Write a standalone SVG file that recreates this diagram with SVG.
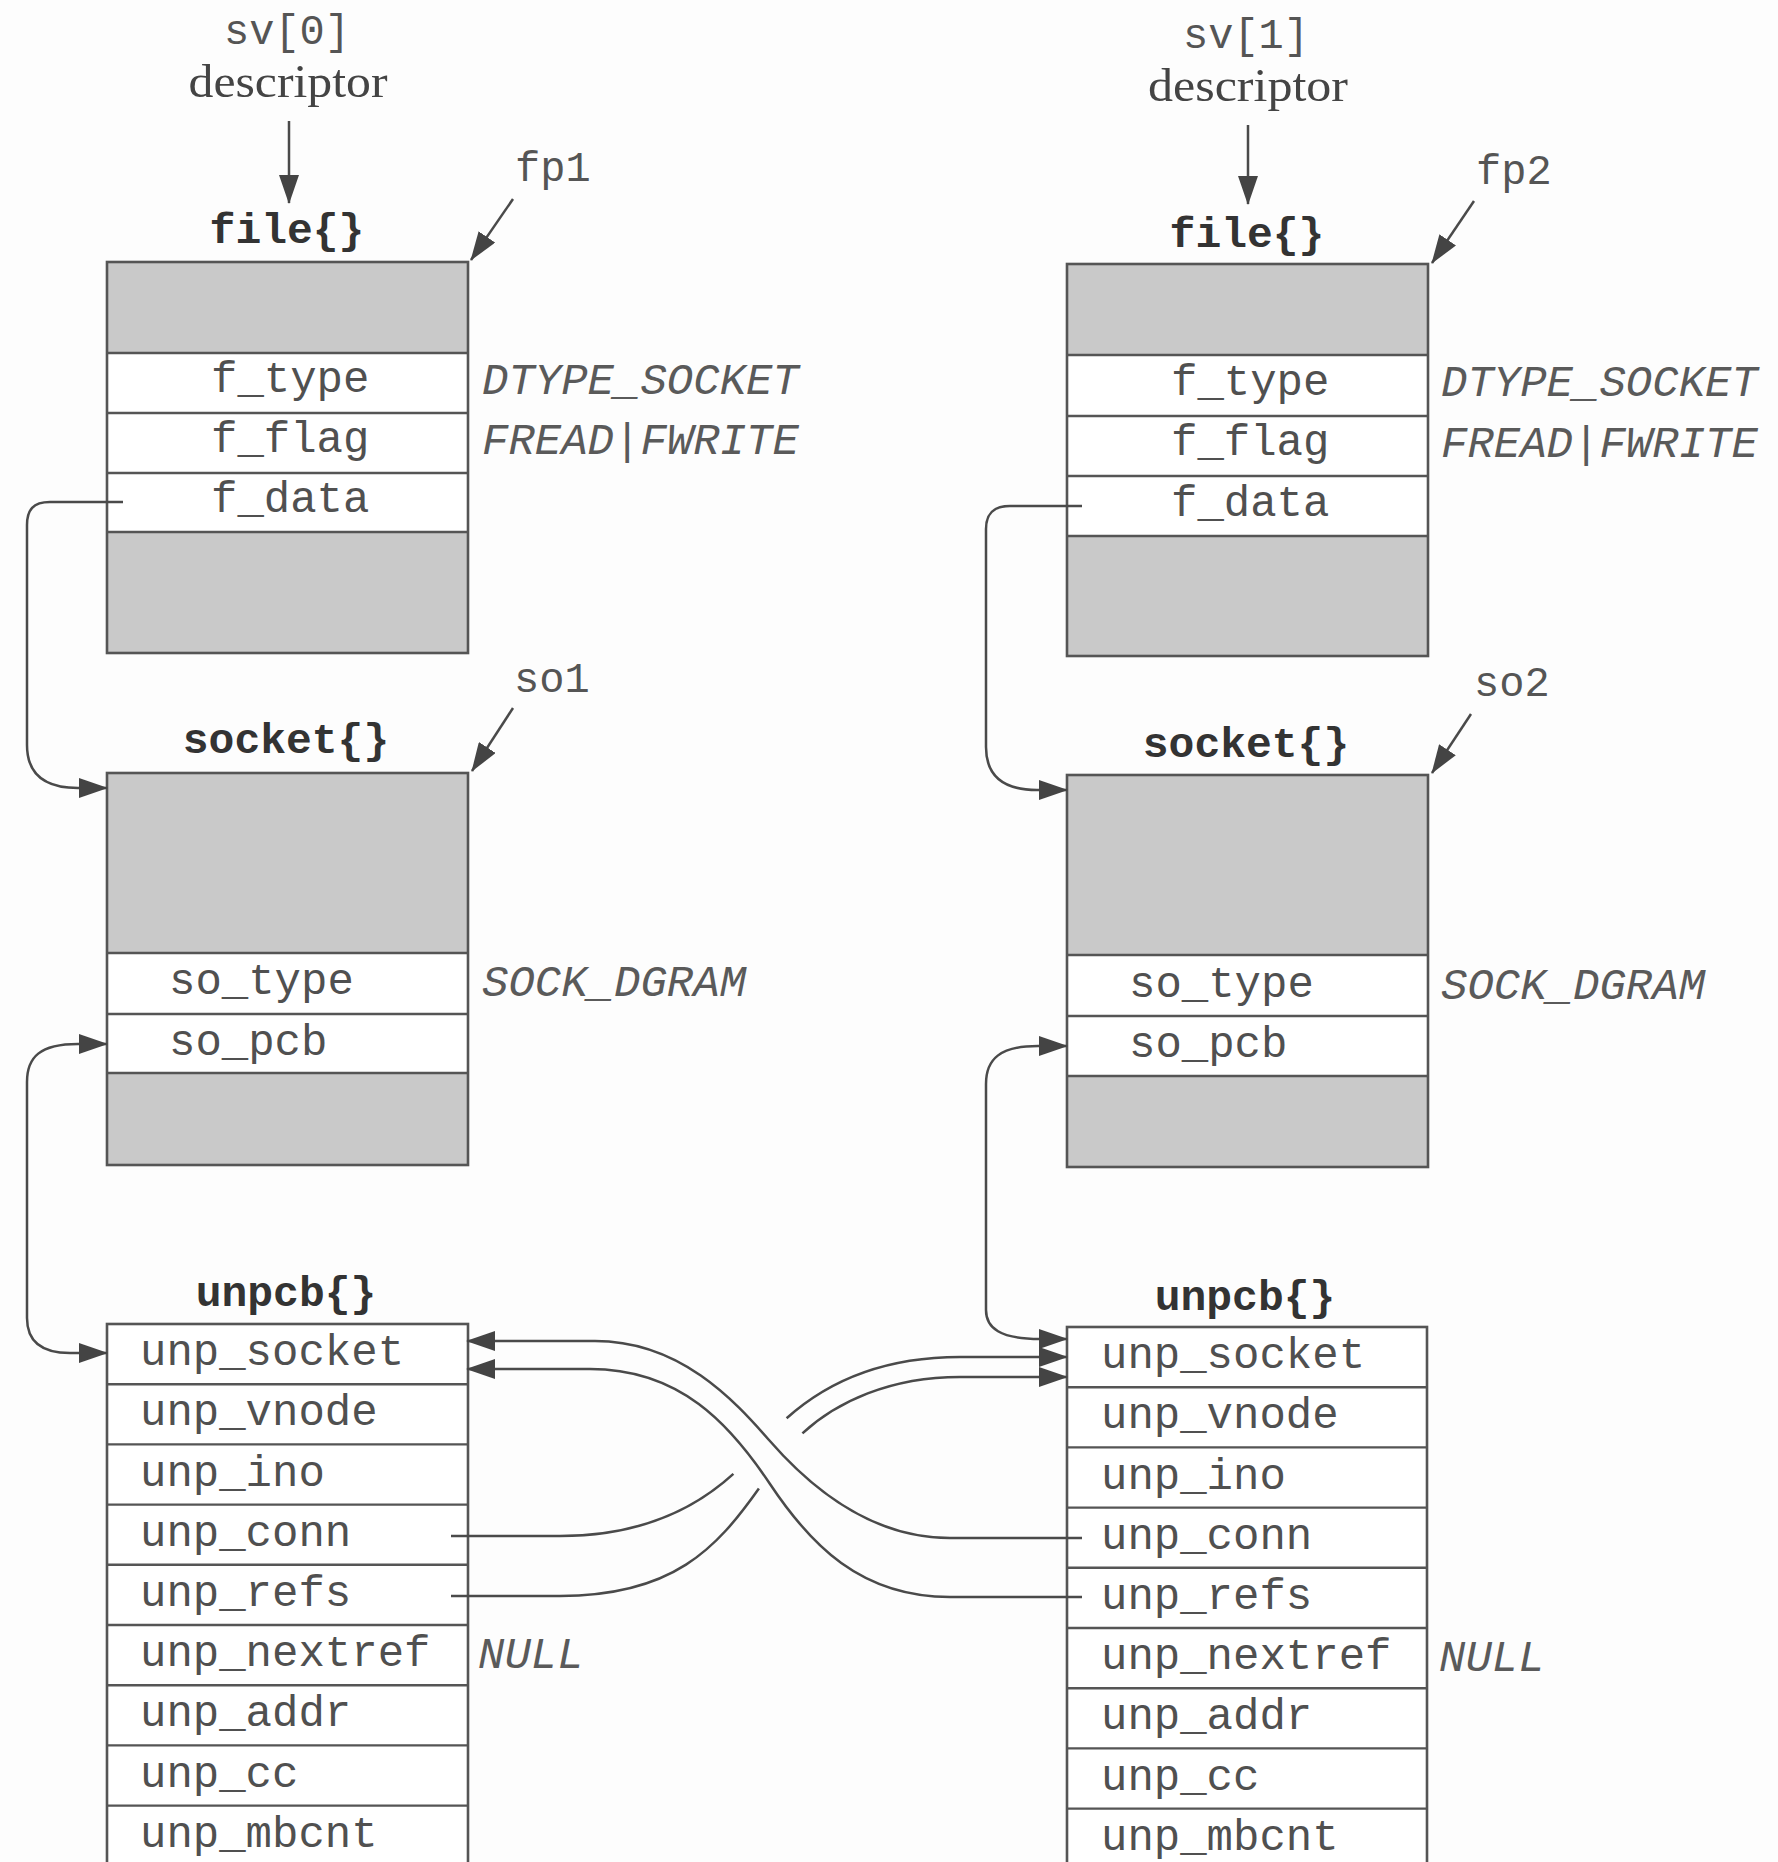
<svg xmlns="http://www.w3.org/2000/svg" width="1778" height="1862" viewBox="0 0 1778 1862">
<defs>
<marker id="ah" markerUnits="userSpaceOnUse" viewBox="0 0 29 20" markerWidth="29" markerHeight="20" refX="28" refY="10" orient="auto-start-reverse">
<path d="M0,0 L29,10 L0,20 z" fill="#444"/>
</marker>
<style>
.box{fill:none;stroke:#555;stroke-width:2.6}
.sep{stroke:#555;stroke-width:2.4}
.gray{fill:#c9c9c9}
.wh{fill:#fff}
.fld{font-family:"Liberation Mono","DejaVu Sans Mono",monospace;font-size:44px;fill:#505050}
.ttl{font-family:"Liberation Mono","DejaVu Sans Mono",monospace;font-size:43px;font-weight:bold;fill:#333;text-anchor:middle}
.val{font-family:"Liberation Mono","DejaVu Sans Mono",monospace;font-size:44px;font-style:italic;fill:#5a5a5a}
.ptr{font-family:"Liberation Mono","DejaVu Sans Mono",monospace;font-size:42px;fill:#555}
.ser{font-family:"Liberation Serif","DejaVu Serif",serif;font-size:47px;fill:#444;text-anchor:middle}
.ln{fill:none;stroke:#4a4a4a;stroke-width:2.5}
</style>
</defs>
<rect x="0" y="0" width="1778" height="1862" fill="#fdfdfd"/>

<!-- Left column -->
<g id="desc0">
<text class="ptr" x="287" y="44" text-anchor="middle">sv[0]</text>
<text class="ser" x="288" y="97" textLength="199" lengthAdjust="spacingAndGlyphs">descriptor</text>
</g>
<g id="file1">
<text class="ttl" x="287" y="243">file{}</text>
<rect class="gray" x="107" y="262" width="361" height="91"/>
<rect class="wh" x="107" y="353" width="361" height="179"/>
<rect class="gray" x="107" y="532" width="361" height="121"/>
<rect class="box" x="107" y="262" width="361" height="391"/>
<line class="sep" x1="107" y1="353" x2="468" y2="353"/>
<line class="sep" x1="107" y1="413" x2="468" y2="413"/>
<line class="sep" x1="107" y1="473" x2="468" y2="473"/>
<line class="sep" x1="107" y1="532" x2="468" y2="532"/>
<text class="fld" x="211" y="392">f_type</text>
<text class="fld" x="211" y="452">f_flag</text>
<text class="fld" x="211" y="512">f_data</text>
<text class="val" x="482" y="394">DTYPE_SOCKET</text>
<text class="val" x="482" y="454">FREAD|FWRITE</text>
<text class="ptr" x="515" y="181">fp1</text>
</g>
<g id="socket1">
<text class="ttl" x="286" y="753">socket{}</text>
<rect class="gray" x="107" y="773" width="361" height="180"/>
<rect class="wh" x="107" y="953" width="361" height="120"/>
<rect class="gray" x="107" y="1073" width="361" height="92"/>
<rect class="box" x="107" y="773" width="361" height="392"/>
<line class="sep" x1="107" y1="953" x2="468" y2="953"/>
<line class="sep" x1="107" y1="1014" x2="468" y2="1014"/>
<line class="sep" x1="107" y1="1073" x2="468" y2="1073"/>
<text class="fld" x="169" y="994">so_type</text>
<text class="fld" x="169" y="1055">so_pcb</text>
<text class="val" x="482" y="996">SOCK_DGRAM</text>
<text class="ptr" x="514" y="692">so1</text>
</g>
<g id="unpcb1">
<text class="ttl" x="286" y="1306">unpcb{}</text>
<rect class="wh" x="107" y="1324" width="361" height="560"/>
<rect class="box" x="107" y="1324" width="361" height="560"/>
<line class="sep" x1="107" y1="1384.2" x2="468" y2="1384.2"/>
<line class="sep" x1="107" y1="1444.4" x2="468" y2="1444.4"/>
<line class="sep" x1="107" y1="1504.6" x2="468" y2="1504.6"/>
<line class="sep" x1="107" y1="1564.8" x2="468" y2="1564.8"/>
<line class="sep" x1="107" y1="1625" x2="468" y2="1625"/>
<line class="sep" x1="107" y1="1685.2" x2="468" y2="1685.2"/>
<line class="sep" x1="107" y1="1745.4" x2="468" y2="1745.4"/>
<line class="sep" x1="107" y1="1805.6" x2="468" y2="1805.6"/>
<text class="fld" x="140" y="1365">unp_socket</text>
<text class="fld" x="140" y="1425">unp_vnode</text>
<text class="fld" x="140" y="1486">unp_ino</text>
<text class="fld" x="140" y="1546">unp_conn</text>
<text class="fld" x="140" y="1606">unp_refs</text>
<text class="fld" x="140" y="1666">unp_nextref</text>
<text class="fld" x="140" y="1726">unp_addr</text>
<text class="fld" x="140" y="1787">unp_cc</text>
<text class="fld" x="140" y="1847">unp_mbcnt</text>
<text class="val" x="478" y="1668">NULL</text>
</g>

<!-- Right column -->
<g id="desc1">
<text class="ptr" x="1246" y="48" text-anchor="middle">sv[1]</text>
<text class="ser" x="1248" y="101" textLength="200" lengthAdjust="spacingAndGlyphs">descriptor</text>
</g>
<g id="file2">
<text class="ttl" x="1247" y="247">file{}</text>
<rect class="gray" x="1067" y="264" width="361" height="91"/>
<rect class="wh" x="1067" y="355" width="361" height="181"/>
<rect class="gray" x="1067" y="536" width="361" height="120"/>
<rect class="box" x="1067" y="264" width="361" height="392"/>
<line class="sep" x1="1067" y1="355" x2="1428" y2="355"/>
<line class="sep" x1="1067" y1="416" x2="1428" y2="416"/>
<line class="sep" x1="1067" y1="476" x2="1428" y2="476"/>
<line class="sep" x1="1067" y1="536" x2="1428" y2="536"/>
<text class="fld" x="1171" y="395">f_type</text>
<text class="fld" x="1171" y="455">f_flag</text>
<text class="fld" x="1171" y="516">f_data</text>
<text class="val" x="1441" y="396">DTYPE_SOCKET</text>
<text class="val" x="1441" y="457">FREAD|FWRITE</text>
<text class="ptr" x="1476" y="184">fp2</text>
</g>
<g id="socket2">
<text class="ttl" x="1246" y="757">socket{}</text>
<rect class="gray" x="1067" y="775" width="361" height="180"/>
<rect class="wh" x="1067" y="955" width="361" height="121"/>
<rect class="gray" x="1067" y="1076" width="361" height="91"/>
<rect class="box" x="1067" y="775" width="361" height="392"/>
<line class="sep" x1="1067" y1="955" x2="1428" y2="955"/>
<line class="sep" x1="1067" y1="1016" x2="1428" y2="1016"/>
<line class="sep" x1="1067" y1="1076" x2="1428" y2="1076"/>
<text class="fld" x="1129" y="997">so_type</text>
<text class="fld" x="1129" y="1057">so_pcb</text>
<text class="val" x="1441" y="999">SOCK_DGRAM</text>
<text class="ptr" x="1474" y="696">so2</text>
</g>
<g id="unpcb2">
<text class="ttl" x="1245" y="1310">unpcb{}</text>
<rect class="wh" x="1067" y="1327" width="360" height="560"/>
<rect class="box" x="1067" y="1327" width="360" height="560"/>
<line class="sep" x1="1067" y1="1387.2" x2="1427" y2="1387.2"/>
<line class="sep" x1="1067" y1="1447.4" x2="1427" y2="1447.4"/>
<line class="sep" x1="1067" y1="1507.6" x2="1427" y2="1507.6"/>
<line class="sep" x1="1067" y1="1567.8" x2="1427" y2="1567.8"/>
<line class="sep" x1="1067" y1="1628" x2="1427" y2="1628"/>
<line class="sep" x1="1067" y1="1688.2" x2="1427" y2="1688.2"/>
<line class="sep" x1="1067" y1="1748.4" x2="1427" y2="1748.4"/>
<line class="sep" x1="1067" y1="1808.6" x2="1427" y2="1808.6"/>
<text class="fld" x="1101" y="1368">unp_socket</text>
<text class="fld" x="1101" y="1428">unp_vnode</text>
<text class="fld" x="1101" y="1489">unp_ino</text>
<text class="fld" x="1101" y="1549">unp_conn</text>
<text class="fld" x="1101" y="1609">unp_refs</text>
<text class="fld" x="1101" y="1669">unp_nextref</text>
<text class="fld" x="1101" y="1729">unp_addr</text>
<text class="fld" x="1101" y="1790">unp_cc</text>
<text class="fld" x="1101" y="1850">unp_mbcnt</text>
<text class="val" x="1439" y="1671">NULL</text>
</g>

<g id="connectors">
<path class="ln" d="M289 121 V203" marker-end="url(#ah)"/>
<path class="ln" d="M1248 125 V204" marker-end="url(#ah)"/>
<path class="ln" d="M513 199 L471 260" marker-end="url(#ah)"/>
<path class="ln" d="M1474 201 L1432 263" marker-end="url(#ah)"/>
<path class="ln" d="M513 708 L472 771" marker-end="url(#ah)"/>
<path class="ln" d="M1471 714 L1432 773" marker-end="url(#ah)"/>
<path class="ln" d="M123 502 H50 C33 502 27 510 27 525 V745 C27 772 42 788 78 788 H107" marker-end="url(#ah)"/>
<path class="ln" d="M1082 506 H1010 C993 506 986 514 986 529 V747 C986 774 1001 790 1037 790 H1067" marker-end="url(#ah)"/>
<path class="ln" d="M107 1044 H78 C40 1044 27 1057 27 1082 V1318 C27 1340 40 1353 70 1353 H107" marker-start="url(#ah)" marker-end="url(#ah)"/>
<path class="ln" d="M1067 1046 H1038 C1000 1046 986 1059 986 1084 V1310 C986 1328 1000 1339 1040 1339 H1067" marker-start="url(#ah)" marker-end="url(#ah)"/>
<path class="ln" d="M451 1536 H560 C640 1536 694.4 1509.5 733.4 1473.9"/>
<path class="ln" d="M786.6 1418.3 C825.6 1383.2 880 1357 960 1357 H1067" marker-end="url(#ah)"/>
<path class="ln" d="M451 1596 H560 C673.1 1596 716.6 1548.3 758.9 1488.5"/>
<path class="ln" d="M802.4 1433.3 C836.6 1402 889.8 1377 960 1377 H1067" marker-end="url(#ah)"/>
<path class="ln" d="M1082 1538 H950 C870 1538 809 1486 769 1440 C734 1400 680 1341 595 1341 H467" marker-end="url(#ah)"/>
<path class="ln" d="M1082 1597 H950 C860 1597 810 1544 770 1484 C730 1424 680 1369 590 1369 H467" marker-end="url(#ah)"/>
</g>
</svg>
